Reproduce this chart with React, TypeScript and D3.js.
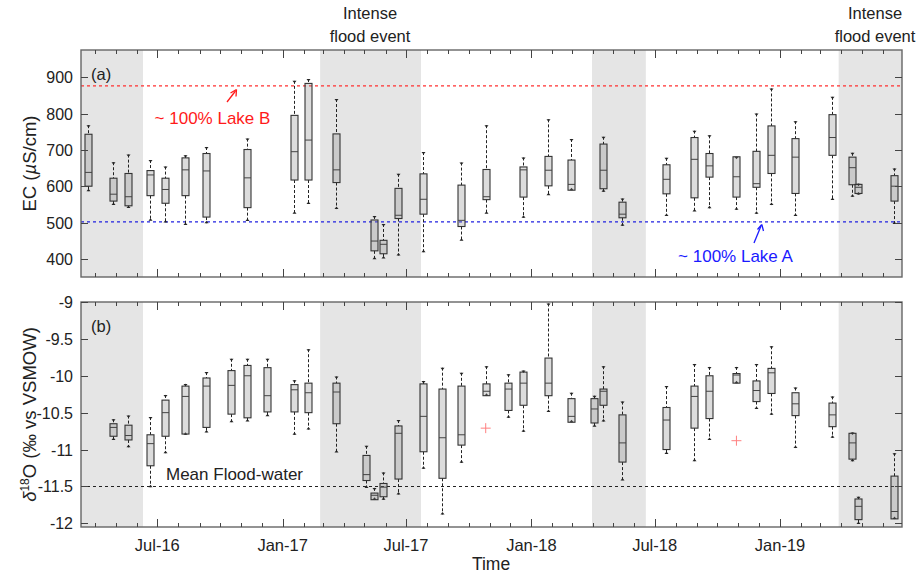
import * as d3 from 'd3';

// EC panel (a)
const ecDates = [
  '2016-03-22', '2016-04-27', '2016-05-19', '2016-06-20', '2016-07-12', '2016-08-10', '2016-09-11',
  '2016-11-10', '2017-01-17', '2017-02-07', '2017-03-21', '2017-05-15', '2017-05-28', '2017-06-20',
  '2017-07-26', '2017-09-20', '2017-10-26', '2017-12-20', '2018-01-25', '2018-02-28', '2018-04-16',
  '2018-05-14', '2018-07-17', '2018-08-27', '2018-09-18', '2018-10-29', '2018-11-27', '2018-12-18',
  '2019-01-23', '2019-03-18', '2019-04-16', '2019-04-26', '2019-06-17',
];
const ecHigh = [768, 666, 687, 672, 654, 685, 708, 731, 890, 895, 840, 518, 496, 634, 694, 665, 768, 679, 784, 730, 736, 566, 678, 753, 740, 681, 800, 869, 779, 846, 692, 607, 649];
const ecQ3 = [743, 622, 635, 643, 622, 678, 690, 701, 795, 883, 744, 507, 451, 594, 634, 603, 646, 653, 682, 672, 716, 556, 659, 734, 690, 681, 696, 766, 731, 797, 680, 605, 629];
const ecMedian = [638, 578, 571, 631, 591, 645, 642, 623, 695, 727, 645, 449, 440, 520, 564, 506, 571, 645, 644, 605, 644, 523, 619, 674, 656, 626, 607, 685, 680, 734, 651, 597, 600];
const ecQ1 = [600, 559, 546, 574, 553, 574, 515, 541, 617, 617, 610, 422, 414, 511, 523, 489, 563, 570, 601, 589, 593, 513, 579, 568, 625, 570, 597, 635, 580, 685, 604, 580, 559];
const ecLow = [586, 548, 540, 505, 500, 493, 498, 504, 524, 551, 537, 399, 401, 409, 418, 450, 524, 513, 575, 589, 585, 491, 518, 530, 539, 535, 524, 548, 518, 562, 571, 577, 496];
const ecTicks = [400, 500, 600, 700, 800, 900];
const lakeB = 876;
const lakeA = 502;

// d18O panel (b)
const isoDates = [
  '2016-04-27', '2016-05-19', '2016-06-20', '2016-07-12', '2016-08-10', '2016-09-11', '2016-10-17',
  '2016-11-10', '2016-12-09', '2017-01-17', '2017-02-07', '2017-03-21', '2017-05-03', '2017-05-15',
  '2017-05-28', '2017-06-20', '2017-07-26', '2017-08-23', '2017-09-20', '2017-10-26', '2017-11-27',
  '2017-12-20', '2018-01-25', '2018-02-28', '2018-04-03', '2018-04-16', '2018-05-14', '2018-07-17',
  '2018-08-27', '2018-09-18', '2018-10-29', '2018-11-27', '2018-12-18', '2019-01-23', '2019-03-18',
  '2019-04-16', '2019-04-26', '2019-06-17',
];
const isoHigh = [-10.59, -10.54, -10.56, -10.26, -10.11, -9.95, -9.77, -9.77, -9.77, -10.06, -9.64, -10.01, -10.95, -11.52, -11.31, -10.6, -10.07, -9.89, -9.96, -9.87, -9.98, -9.93, -9.02, -10.23, -10.27, -9.87, -10.35, -10.14, -9.84, -9.88, -9.88, -9.84, -9.6, -10.16, -10.28, -10.77, -11.64, -11.05];
const isoQ3 = [-10.65, -10.67, -10.8, -10.33, -10.14, -10.03, -9.93, -9.86, -9.89, -10.12, -10.1, -10.1, -11.08, -11.59, -11.46, -10.68, -10.11, -10.18, -10.14, -10.11, -10.1, -9.95, -9.76, -10.31, -10.31, -10.18, -10.53, -10.43, -10.14, -10.0, -9.97, -10.07, -9.9, -10.23, -10.37, -10.78, -11.67, -11.36];
const isoMedian = [-10.7, -10.81, -10.92, -10.5, -10.28, -10.14, -10.13, -10.0, -10.27, -10.19, -10.23, -10.22, -11.34, -11.62, -11.51, -10.78, -10.55, -10.84, -10.8, -10.21, -10.18, -10.1, -10.1, -10.55, -10.45, -10.21, -10.91, -10.6, -10.28, -10.21, -9.99, -10.2, -9.96, -10.38, -10.53, -10.91, -11.77, -11.84];
const isoQ1 = [-10.82, -10.87, -11.22, -10.82, -10.79, -10.7, -10.52, -10.57, -10.49, -10.49, -10.5, -10.65, -11.42, -11.68, -11.64, -11.4, -11.03, -11.39, -10.94, -10.27, -10.47, -10.4, -10.27, -10.63, -10.64, -10.4, -11.17, -11.0, -10.71, -10.58, -10.1, -10.35, -10.24, -10.54, -10.69, -11.13, -11.95, -11.94];
const isoLow = [-10.87, -10.97, -11.51, -11.05, -10.8, -10.77, -10.63, -10.62, -10.55, -10.8, -10.73, -11.04, -11.52, -11.68, -11.68, -11.61, -11.26, -11.88, -11.18, -10.27, -10.57, -10.76, -10.49, -10.63, -10.69, -10.62, -11.42, -11.06, -11.16, -10.87, -10.1, -10.45, -10.53, -10.98, -10.84, -11.16, -12.01, -11.94];
const isoOutlierDates = ['2017-10-26', '2018-10-29'];
const isoOutliers = [-10.71, -10.88];
const isoTicks = [-12, -11.5, -11, -10.5, -10, -9.5, -9];
const floodWater = -11.5;

// wet periods shaded in both panels
const shadeStart = ['2016-03-11', '2017-02-25', '2018-03-31', '2019-03-28'];
const shadeEnd = ['2016-06-10', '2017-07-23', '2018-06-18', '2019-06-29'];

const parse = d3.timeParse('%Y-%m-%d');
const FONT = '"Liberation Sans", Arial, sans-serif';
const LEFT = 81;
const RIGHT = 902;
const TOP_A = 50;
const BOT_A = 277;
const TOP_B = 302;
const BOT_B = 527;
const BOX_W = 7;
const CAP_W = 4;

const x = d3
  .scaleTime()
  .domain([parse('2016-03-11'), parse('2019-06-29')])
  .range([LEFT, RIGHT]);

const yA = d3.scaleLinear().domain([350, 975]).range([BOT_A, TOP_A]);
const yB = d3.scaleLinear().domain([-12.05, -9]).range([BOT_B, TOP_B]);

function Boxes({ dates, low, q1, med, q3, high, y }) {
  return (
    <g>
      {dates.map((ds, i) => {
        const cx = Math.round(x(parse(ds))) + 0.5;
        const yl = y(low[i]);
        const yh = y(high[i]);
        const y1 = y(q1[i]);
        const y3 = y(q3[i]);
        const ym = y(med[i]);
        return (
          <g key={ds}>
            <line x1={cx} x2={cx} y1={yh} y2={y3} stroke="#222" strokeWidth={1} strokeDasharray="3,2" />
            <line x1={cx} x2={cx} y1={y1} y2={yl} stroke="#222" strokeWidth={1} strokeDasharray="3,2" />
            <path d={`M${cx - CAP_W / 2},${yh}h${CAP_W}l${-CAP_W / 2},${2.5}z`} fill="#222" />
            <path d={`M${cx - CAP_W / 2},${yl}h${CAP_W}l${-CAP_W / 2},${-2.5}z`} fill="#222" />
            <rect
              x={cx - BOX_W / 2}
              y={y3}
              width={BOX_W}
              height={Math.max(1, y1 - y3)}
              fill="#8c8c8c"
              fillOpacity={0.3}
              stroke="#333"
              strokeWidth={1.1}
            />
            <line x1={cx - BOX_W / 2} x2={cx + BOX_W / 2} y1={ym} y2={ym} stroke="#444" strokeWidth={1} />
          </g>
        );
      })}
    </g>
  );
}

function Frame({ top, bottom, y, ticks }) {
  const months = x.ticks(d3.timeMonth.every(1));
  return (
    <g>
      <rect x={LEFT} y={top} width={RIGHT - LEFT} height={bottom - top} fill="none" stroke="#666" strokeWidth={1.4} />
      {months.map((m) => {
        const major = m.getMonth() === 0 || m.getMonth() === 6;
        const len = major ? 8 : 4;
        const xx = Math.round(x(m)) + 0.5;
        return (
          <g key={+m}>
            <line x1={xx} x2={xx} y1={bottom} y2={bottom - len} stroke="#444" />
            <line x1={xx} x2={xx} y1={top} y2={top + len} stroke="#444" />
          </g>
        );
      })}
      {ticks.map((t) => {
        const yy = Math.round(y(t)) + 0.5;
        return (
          <g key={t}>
            <line x1={LEFT} x2={LEFT + 7} y1={yy} y2={yy} stroke="#444" />
            <line x1={RIGHT} x2={RIGHT - 7} y1={yy} y2={yy} stroke="#444" />
            <text x={LEFT - 8} y={yy + 5.5} textAnchor="end" fontSize={16} fill="#222">
              {String(t)}
            </text>
          </g>
        );
      })}
    </g>
  );
}

function Shading({ top, bottom }) {
  return (
    <g>
      {shadeStart.map((s, i) => (
        <rect
          key={s}
          x={x(parse(s))}
          y={top}
          width={x(parse(shadeEnd[i])) - x(parse(s))}
          height={bottom - top}
          fill="#e5e5e5"
        />
      ))}
    </g>
  );
}

export default function App() {
  const majors = x.ticks(d3.timeMonth.every(6));
  const fmtDate = d3.timeFormat('%b-%y');
  return (
    <div style={{ position: 'absolute', left: 0, top: 0 }}>
      <svg width={920} height={576} fontFamily={FONT} style={{ display: 'block', background: '#fff' }}>
        {/* panel (a) */}
        <Shading top={TOP_A} bottom={BOT_A} />
        <line x1={LEFT} x2={RIGHT} y1={yA(lakeB)} y2={yA(lakeB)} stroke="#ff3030" strokeWidth={1.2} strokeDasharray="3,3" />
        <line x1={LEFT} x2={RIGHT} y1={yA(lakeA)} y2={yA(lakeA)} stroke="#2020e0" strokeWidth={1.2} strokeDasharray="3,3" />
        <Boxes dates={ecDates} low={ecLow} q1={ecQ1} med={ecMedian} q3={ecQ3} high={ecHigh} y={yA} />
        <Frame top={TOP_A} bottom={BOT_A} y={yA} ticks={ecTicks} />
        <text x={91} y={80} fontSize={16.5} fill="#222">(a)</text>
        <text x={212.5} y={124} textAnchor="middle" fontSize={17} fill="#ff1a1a">~ 100% Lake B</text>
        <line x1={227} y1={102} x2={235.5} y2={91} stroke="#ff1a1a" strokeWidth={1.3} />
        <path d="M236.5,89.5 L236,96.5 M236.5,89.5 L230.5,93" stroke="#ff1a1a" strokeWidth={1.3} fill="none" />
        <text x={735.5} y={262} textAnchor="middle" fontSize={17} fill="#1a1aff">~ 100% Lake A</text>
        <line x1={754} y1={243} x2={761} y2={226} stroke="#1a1aff" strokeWidth={1.3} />
        <path d="M761.8,224.5 L757.5,229.5 M761.8,224.5 L763.5,231" stroke="#1a1aff" strokeWidth={1.3} fill="none" />
        <text x={370} y={19} textAnchor="middle" fontSize={16.5} fill="#222">Intense</text>
        <text x={370} y={42} textAnchor="middle" fontSize={16.5} fill="#222">flood event</text>
        <text x={875} y={19} textAnchor="middle" fontSize={16.5} fill="#222">Intense</text>
        <text x={875} y={42} textAnchor="middle" fontSize={16.5} fill="#222">flood event</text>
        <text transform={`translate(36,${(TOP_A + BOT_A) / 2}) rotate(-90)`} textAnchor="middle" fontSize={18.5} fill="#222">
          EC (<tspan fontStyle="italic">µ</tspan>S/cm)
        </text>

        {/* panel (b) */}
        <Shading top={TOP_B} bottom={BOT_B} />
        <line x1={LEFT} x2={RIGHT} y1={yB(floodWater)} y2={yB(floodWater)} stroke="#222" strokeWidth={1.1} strokeDasharray="3,3" />
        <Boxes dates={isoDates} low={isoLow} q1={isoQ1} med={isoMedian} q3={isoQ3} high={isoHigh} y={yB} />
        {isoOutlierDates.map((ds, i) => {
          const px = x(parse(ds));
          const py = yB(isoOutliers[i]);
          return <path key={ds} d={`M${px - 5},${py}h10M${px},${py - 5}v10`} stroke="#ff8080" strokeWidth={1} />;
        })}
        <Frame top={TOP_B} bottom={BOT_B} y={yB} ticks={isoTicks} />
        <text x={91} y={332} fontSize={16.5} fill="#222">(b)</text>
        <text x={166} y={480} fontSize={17} fill="#222">Mean Flood-water</text>
        <text transform={`translate(36,${(TOP_B + BOT_B) / 2}) rotate(-90)`} textAnchor="middle" fontSize={18.5} fill="#222">
          <tspan fontStyle="italic">δ</tspan>
          <tspan fontSize={12} dy={-7}>18</tspan>
          <tspan dy={7}>O (‰ vs VSMOW)</tspan>
        </text>

        {majors.map((m) => (
          <text key={+m} x={x(m)} y={551} textAnchor="middle" fontSize={16.5} fill="#222">
            {fmtDate(m)}
          </text>
        ))}
        <text x={491} y={570} textAnchor="middle" fontSize={17.5} fill="#222">Time</text>
      </svg>
    </div>
  );
}
